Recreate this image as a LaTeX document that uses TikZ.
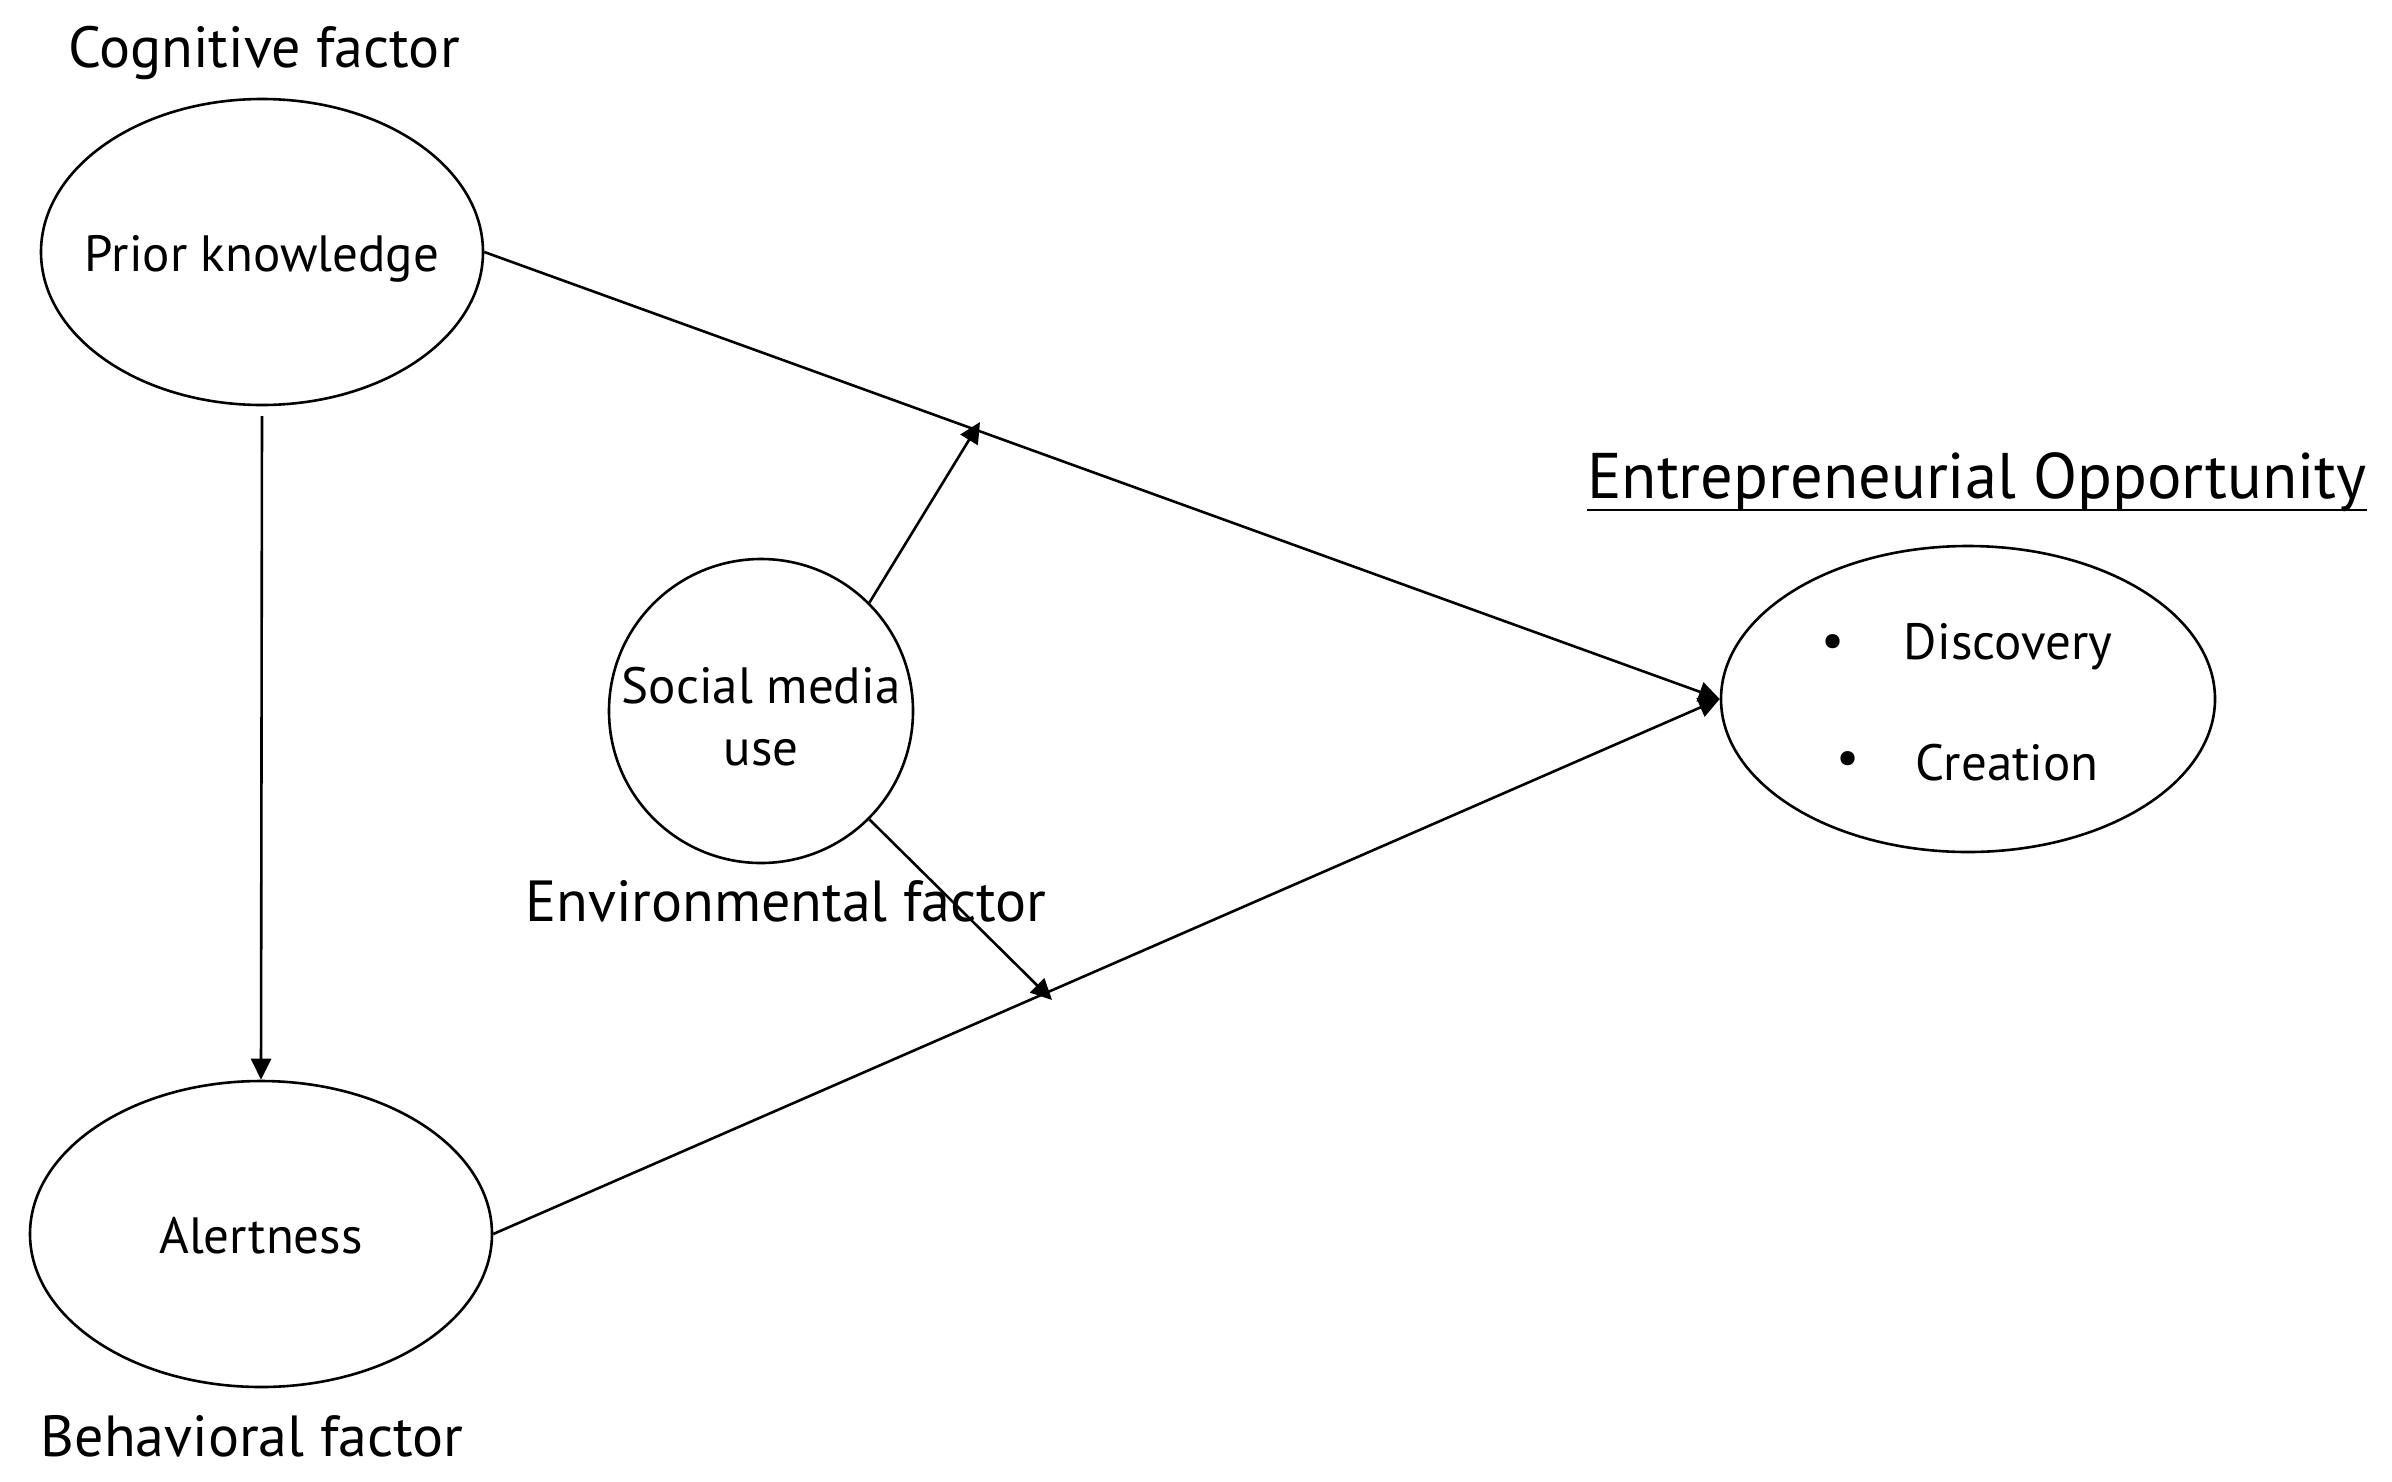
\documentclass[tikz,border=0pt]{standalone}
\usepackage{fontspec}
\setmainfont{PT Sans}
\usetikzlibrary{arrows.meta,calc,shapes.geometric}
\begin{document}
\begin{tikzpicture}[x=1pt,y=-1pt,
  oval/.style={draw, line width=2.6pt, ellipse, inner sep=0pt},
  lab/.style={font=\fontsize{58}{68}\selectfont, inner sep=0pt},
  intext/.style={font=\fontsize{51}{62}\selectfont, inner sep=0pt, align=center},
  ttl/.style={font=\fontsize{64.5}{76}\selectfont, inner sep=0pt},
  conn/.style={line width=2.6pt, -{Triangle[length=21pt,width=20pt]}}]
\useasboundingbox (0,0) rectangle (2392,1481);
% ellipses
\node[oval, minimum width=442pt, minimum height=306pt] (prior) at (262,252) {};
\node[oval, minimum width=462pt, minimum height=306pt] (alert) at (261,1234) {};
\node[oval, circle, minimum size=304pt] (social) at (761,711) {};
\node[oval, minimum width=494pt, minimum height=306pt] (eo) at (1968,699) {};
% ellipse texts
\node[intext] (priort) at (262,259) {Prior knowledge};
\node[intext] (alertt) at (261,1236) {Alertness};
\node[intext] (socialt) at (761,717) {Social media\\use};
% labels
\node[lab] (cog) at (264,53) {Cognitive factor};
\node[lab] (beh) at (252,1436) {Behavioral factor};
\node[lab] (env) at (786,901) {Environmental factor};
\node[ttl] (eotitle) at (1977,482) {Entrepreneurial Opportunity};
\draw[line width=2.4pt] ($(eotitle.south west)+(0,-2)$) -- ($(eotitle.south east)+(0,-2)$);
% bullets
\node[intext] (b1) at (1833,646) {•};
\node[intext] (disc) at (2008,647) {Discovery};
\node[intext] (b2) at (1848,763) {•};
\node[intext] (crea) at (2007,763) {Creation};
% coordinates
\coordinate (vstart) at (262,416);
\coordinate (m1) at (980,422);
\coordinate (m2) at (1052,1000);
% connectors
\draw[conn] (vstart) -- (alert.north);
\draw[conn] (prior.east) -- (eo.west);
\draw[conn] (alert.east) -- (eo.west);
\draw[conn] (social.45) -- (m1);
\draw[conn] (social.-45) -- (m2);
\end{tikzpicture}
\end{document}
